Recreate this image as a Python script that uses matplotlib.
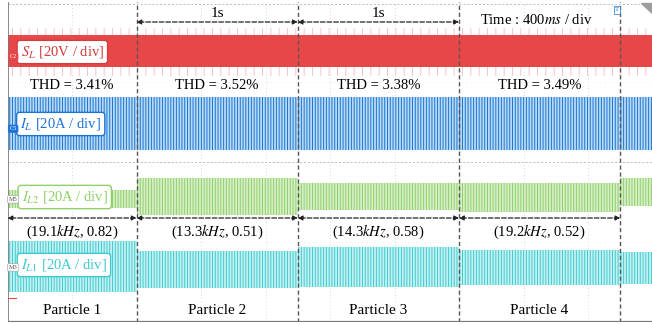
import matplotlib
matplotlib.use("Agg")
import matplotlib.pyplot as plt
import numpy as np

plt.rcParams.update({
    "font.family": ["Liberation Serif", "DejaVu Serif"],
    "mathtext.fontset": "stix",
    "hatch.linewidth": 0.7,
})

# time axis in seconds (400 ms/div, 10 div), vertical axis in divisions (8 div)
seg_edges = [0.0, 0.8, 1.8, 2.8, 3.8, 4.0]
particles = ["Particle 1", "Particle 2", "Particle 3", "Particle 4"]
thd = ["3.41%", "3.52%", "3.38%", "3.49%"]
freq_khz = ["19.1", "13.3", "14.3", "19.2"]
duty = ["0.82", "0.51", "0.58", "0.52"]

# envelopes (div)
sl_band = (6.375, 7.175)
sl_spike = (6.15, 7.35)
il_band = (4.30, 5.625)
il2_top = [3.30, 3.60, 3.475, 3.475, 3.60]
il2_bot = [2.85, 2.675, 2.80, 2.75, 2.90]
il1_top = [2.025, 1.775, 1.875, 1.80, 1.75]
il1_bot = [0.75, 0.85, 0.875, 0.925, 0.95]

RED = "#e8474a"
BLUE = "#1b74d6"
GREEN = "#8fd068"
CYAN = "#3ccbd0"

fig = plt.figure(figsize=(6.52, 3.25), dpi=100)
ax = fig.add_axes([7.5 / 652, 3 / 325, 645 / 652, 320 / 325])
ax.set_xlim(0, 4.0)
ax.set_ylim(0, 8)
ax.axis("off")

# grid
for k in range(1, 10):
    ax.axvline(k * 0.4, color="#cfcfcf", lw=0.6, ls=(0, (1, 3)), zorder=0)
for k in range(1, 8):
    ax.axhline(k, color="#e4e4e4", lw=0.6, ls=(0, (1, 4)), zorder=0)
ax.axhline(4, color="#bdbdbd", lw=0.7, ls=(0, (2, 2)), zorder=0)
ax.axhline(7.95, color="#bdbdbd", lw=0.7, ls=(0, (2, 2)), zorder=0)
ax.plot([0, 0], [0, 8], color="#777777", lw=1.2, zorder=6)
ax.plot([0, 4], [0, 0], color="#777777", lw=1.6, zorder=6)

# S_L
ax.fill_between([0, 4], *sl_spike, facecolor="none", edgecolor="#f7c4c4",
                hatch="||", lw=0, zorder=1)
ax.fill_between([0, 4], *sl_band, color=RED, lw=0, zorder=2)

# I_L
ax.fill_between([0, 4], *il_band, facecolor="#b8daf3", edgecolor=BLUE,
                hatch="||||||", lw=0, zorder=2)

# I_L2 / I_L1 per particle segment
for i in range(len(seg_edges) - 1):
    xs = [seg_edges[i], seg_edges[i + 1]]
    ax.fill_between(xs, il2_bot[i], il2_top[i], facecolor="#d6efc8",
                    edgecolor=GREEN, hatch="||||||", lw=0, zorder=2)
    ax.fill_between(xs, il1_bot[i], il1_top[i], facecolor="#c6f1f2",
                    edgecolor=CYAN, hatch="||||||", lw=0, zorder=2)

# particle separators
for t in seg_edges[1:-1]:
    ax.axvline(t, color="#555555", lw=1.0, ls=(0, (3, 2)), zorder=5)

# 1 s markers
arrow = dict(arrowstyle="<|-|>", color="#222222", lw=0.9, ls="--",
             mutation_scale=7, shrinkA=0, shrinkB=0)
for a, b in [(0.8, 1.8), (1.8, 2.8)]:
    ax.annotate("", xy=(a, 7.5), xytext=(b, 7.5), arrowprops=arrow, zorder=6)
    ax.text((a + b) / 2, 7.72, "1s", ha="center", va="center", fontsize=11)
ax.text(3.28, 7.55, "Time : 400$ms$ / div", ha="center", va="center",
        fontsize=10.5)

# frequency / duty markers
for i in range(4):
    a, b = seg_edges[i], seg_edges[i + 1]
    ax.annotate("", xy=(a, 2.6), xytext=(b, 2.6), arrowprops=arrow, zorder=6)
    mid = (a + b) / 2
    ax.text(mid, 2.25, "(%s$kHz$, %s)" % (freq_khz[i], duty[i]),
            ha="center", va="center", fontsize=10.5, zorder=7)
    ax.text(mid, 5.9, "THD = " + thd[i], ha="center", va="center",
            fontsize=10.5, zorder=7)
    ax.text(mid, 0.3, particles[i], ha="center", va="center",
            fontsize=11, zorder=7)

# channel labels
labels = [
    (0.34, 6.75, "$S_L$ [20V / div]", "#d63a3c", "C2", RED),
    (0.33, 4.95, "$I_L$ [20A / div]", BLUE, "C5", BLUE),
    (0.355, 3.125, "$I_{L2}$ [20A / div]", GREEN, "M5", None),
    (0.35, 1.425, "$I_{L1}$ [20A / div]", CYAN, "M3", None),
]
for x, y, s, c, tag, tc in labels:
    ax.text(x, y, s, color=c, ha="center", va="center", fontsize=10.5,
            zorder=8,
            bbox=dict(boxstyle="round,pad=0.25,rounding_size=0.2",
                      fc="white", ec=c, lw=1.0))
    if tc is None:
        ax.text(0.035, y - 0.06, tag, color="#555555", fontsize=4.5,
                ha="center", va="center", zorder=8,
                bbox=dict(boxstyle="round,pad=0.2", fc="white",
                          ec="#aaaaaa", lw=0.5))
    else:
        ax.text(0.035, y - 0.12, tag, color="white", fontsize=4.5,
                ha="center", va="center", zorder=8,
                bbox=dict(boxstyle="round,pad=0.2", fc=tc, ec=tc, lw=0.5))

ax.plot([0, 0.05], [0.6, 0.6], color=RED, lw=0.8, zorder=7)
ax.text(3.78, 7.8, "T", color="#1b74d6", fontsize=5, ha="center", va="center",
        zorder=8, bbox=dict(boxstyle="square,pad=0.15", fc="white",
                            ec="#1b74d6", lw=0.5))
ax.fill([3.93, 4.0, 4.0], [7.98, 7.98, 7.7], color="#9e9e9e", zorder=8)

fig.savefig("out.png", dpi=100)
plt.close(fig)
